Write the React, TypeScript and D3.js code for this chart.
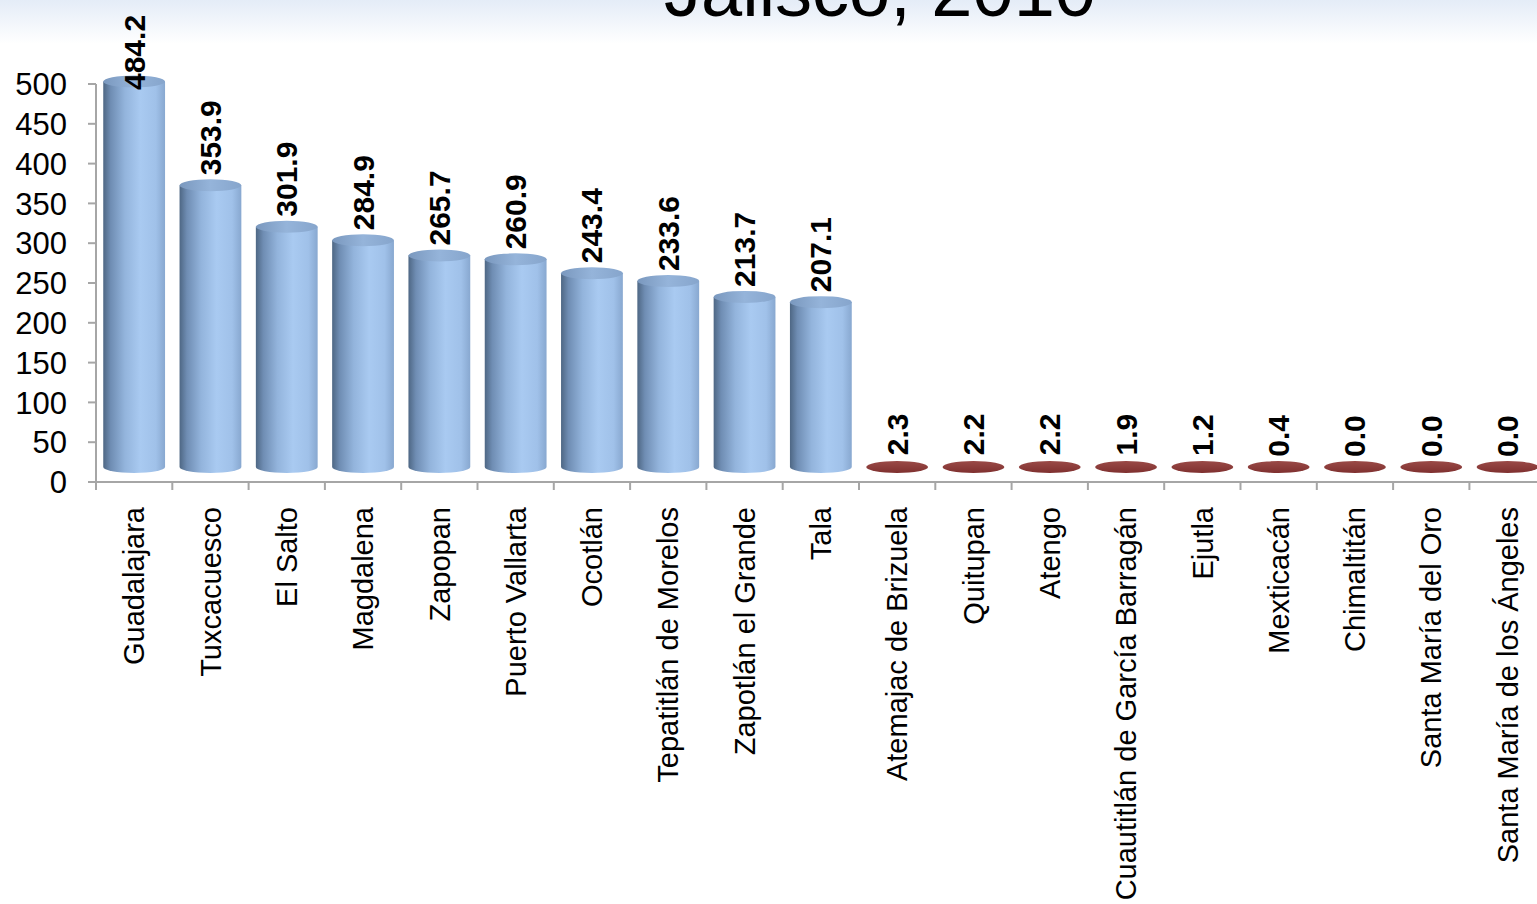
import React from "react";
import * as d3 from "d3";

const categories = [
  "Guadalajara", "Tuxcacuesco", "El Salto", "Magdalena", "Zapopan", "Puerto Vallarta",
  "Ocotlán", "Tepatitlán de Morelos", "Zapotlán el Grande", "Tala", "Atemajac de Brizuela",
  "Quitupan", "Atengo", "Cuautitlán de García Barragán", "Ejutla", "Mexticacán",
  "Chimaltitán", "Santa María del Oro", "Santa María de los Ángeles",
];
const values = [484.2, 353.9, 301.9, 284.9, 265.7, 260.9, 243.4, 233.6, 213.7, 207.1, 2.3, 2.2, 2.2, 1.9, 1.2, 0.4, 0.0, 0.0, 0.0];
const highGroup = [true, true, true, true, true, true, true, true, true, true, false, false, false, false, false, false, false, false, false];
const yTicks = [0, 50, 100, 150, 200, 250, 300, 350, 400, 450, 500];
const titleLine = "Jalisco, 2010";

const W = 1537;
const H = 904;
const left = 96;
const bandW = 76.3;
const depth = 15;
const ry = 6;

export default function App() {
  const x = d3.scaleBand<string>().domain(categories).range([left, left + bandW * categories.length]).paddingInner(0.19).paddingOuter(0.095);
  const y = d3.scaleLinear().domain([0, 500]).range([482, 84]);
  const bw = x.bandwidth();
  const base = y(0) - depth;
  const axisColor = "#a6a6a6";
  const font = "Arial, 'Liberation Sans', sans-serif";

  return (
    <svg width={W} height={H} style={{ position: "fixed", left: 0, top: 0, background: "#fff" }} fontFamily={font}>
      <defs>
        <linearGradient id="bg" x1="0" y1="0" x2="0" y2="1">
          <stop offset="0" stopColor="#e4ecf7" />
          <stop offset="1" stopColor="#ffffff" />
        </linearGradient>
        <linearGradient id="cyl" x1="0" y1="0" x2="1" y2="0">
          <stop offset="0" stopColor="#4e6784" />
          <stop offset="0.12" stopColor="#6f8db3" />
          <stop offset="0.35" stopColor="#93b4dc" />
          <stop offset="0.6" stopColor="#a9caf1" />
          <stop offset="0.85" stopColor="#a0c1e9" />
          <stop offset="1" stopColor="#88a8d0" />
        </linearGradient>
        <linearGradient id="cylTop" x1="0" y1="0" x2="1" y2="0">
          <stop offset="0" stopColor="#7a98be" />
          <stop offset="0.5" stopColor="#95b4da" />
          <stop offset="1" stopColor="#86a5cc" />
        </linearGradient>
        <linearGradient id="redTop" x1="0" y1="0" x2="0" y2="1">
          <stop offset="0" stopColor="#9a4a47" />
          <stop offset="1" stopColor="#7f302f" />
        </linearGradient>
      </defs>
      <rect x={0} y={0} width={W} height={44} fill="url(#bg)" />
      <text x={880} y={16} textAnchor="middle" fontSize={74} fill="#000">{titleLine}</text>

      {/* y axis */}
      <line x1={left} x2={left} y1={y(500)} y2={y(0)} stroke={axisColor} strokeWidth={2} />
      {yTicks.map((t) => (
        <g key={t}>
          <line x1={left - 8} x2={left} y1={y(t)} y2={y(t)} stroke={axisColor} strokeWidth={2} />
          <text x={67} y={y(t)} dy="0.36em" textAnchor="end" fontSize={31} fill="#000">{t}</text>
        </g>
      ))}
      {/* x axis */}
      <line x1={left} x2={left + bandW * categories.length} y1={y(0)} y2={y(0)} stroke={axisColor} strokeWidth={2} />
      {d3.range(categories.length + 1).map((i) => (
        <line key={i} x1={left + i * bandW} x2={left + i * bandW} y1={y(0)} y2={y(0) + 8} stroke={axisColor} strokeWidth={2} />
      ))}

      {/* bars */}
      {categories.map((c, i) => {
        const v = values[i];
        const x0 = x(c) as number;
        const cx = x0 + bw / 2;
        const top = y(v) - depth;
        if (!highGroup[i]) {
          return (
            <ellipse key={c} cx={cx} cy={base} rx={bw / 2} ry={ry} fill="url(#redTop)" />
          );
        }
        const rx = bw / 2;
        const d = `M${x0},${top} L${x0},${base} A${rx},${ry} 0 0 0 ${x0 + bw},${base} L${x0 + bw},${top} Z`;
        return (
          <g key={c}>
            <path d={d} fill="url(#cyl)" />
            <ellipse cx={cx} cy={top} rx={rx} ry={ry} fill="url(#cylTop)" />
          </g>
        );
      })}

      {/* value labels */}
      {categories.map((c, i) => {
        const v = values[i];
        const cx = (x(c) as number) + bw / 2;
        const ly = Math.max(y(v) - 25, 90);
        return (
          <text key={c} transform={`translate(${cx},${ly}) rotate(-90)`} dy="0.35em" textAnchor="start" fontSize={30} fontWeight="bold" fill="#000">
            {v.toFixed(1)}
          </text>
        );
      })}

      {/* category labels */}
      {categories.map((c) => {
        const cx = (x(c) as number) + bw / 2;
        return (
          <text key={c} transform={`translate(${cx},507) rotate(-90)`} dy="0.35em" textAnchor="end" fontSize={29} fill="#000">
            {c}
          </text>
        );
      })}
    </svg>
  );
}
